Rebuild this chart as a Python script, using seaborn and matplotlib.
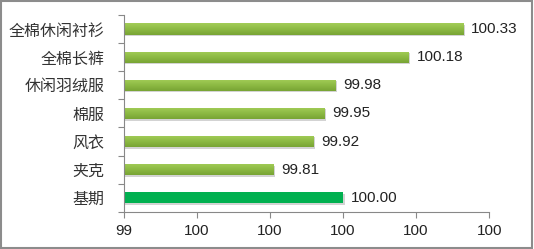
import numpy as np
import pandas as pd
import matplotlib
matplotlib.use("Agg")
import matplotlib.pyplot as plt
import matplotlib.transforms as mtransforms
from matplotlib.patches import Rectangle
from matplotlib.colors import LinearSegmentedColormap
import seaborn as sns

categories = ["全棉休闲衬衫", "全棉长裤", "休闲羽绒服", "棉服", "风衣", "夹克", "基期"]
values = [100.33, 100.18, 99.98, 99.95, 99.92, 99.81, 100.00]
value_labels = ["100.33", "100.18", "99.98", "99.95", "99.92", "99.81", "100.00"]
x_ticks = [99.4, 99.6, 99.8, 100.0, 100.2, 100.4]
x_tick_labels = ["99", "100", "100", "100", "100", "100"]
x_min, x_max = 99.4, 100.4

sns.set_theme(style="white")
plt.rcParams["font.family"] = ["Noto Sans CJK SC", "DejaVu Sans"]

df = pd.DataFrame({"cat": categories, "val": values,
                   "kind": ["item"] * 6 + ["base"]})

fig = plt.figure(figsize=(5.34, 2.49), dpi=100)
ax = fig.add_axes([0.232, 0.149, 0.684, 0.791])

sns.barplot(data=df, y="cat", x="val", hue="kind", orient="h",
            palette={"item": "#8DBA44", "base": "#00B050"}, saturation=1,
            width=0.4, dodge=False, legend=False, ax=ax)

ax.set_xlim(x_min, x_max)
ax.set_ylim(6.5, -0.5)

cmap = LinearSegmentedColormap.from_list("g", ["#A3CD58", "#8DBA44", "#78A434"])
grad = np.linspace(0, 1, 64).reshape(-1, 1)
shadow_tr = mtransforms.offset_copy(ax.transData, fig=fig, x=1.5, y=-1.5, units="dots")
bars = list(ax.patches)
for p in bars:
    w = p.get_width()
    p.set_x(x_min)
    p.set_width(w - x_min)
    p.set_linewidth(0)
    x0 = p.get_x(); y0 = p.get_y(); h = p.get_height(); w = p.get_width()
    ax.add_patch(Rectangle((x0, y0), w, h, transform=shadow_tr, facecolor="#b0b0b0",
                           edgecolor="none", alpha=0.55, zorder=p.get_zorder() - 0.1))
    fc = p.get_facecolor()
    if abs(fc[0] - 0x8D / 255) < 0.02:
        im = ax.imshow(grad, cmap=cmap, aspect="auto", origin="upper",
                       interpolation="bilinear",
                       extent=[x0, x0 + w, y0 + h, y0], zorder=p.get_zorder() + 0.1)
        im.set_clip_path(p)

ax.set_xlim(x_min, x_max)
ax.set_ylim(6.5, -0.5)
ax.set_xticks(x_ticks)
ax.set_xticklabels(x_tick_labels, fontsize=11, family=["Liberation Sans", "DejaVu Sans"], color="#222222")
ax.set_yticks(range(len(categories)))
ax.set_yticklabels(categories, fontsize=11.5, color="#333333")
ax.set_yticks(np.arange(-0.5, 7.0, 1.0), minor=True)
ax.tick_params(axis="y", which="major", length=0, pad=14)
ax.tick_params(axis="y", which="minor", length=4, color="#888888", width=0.8, direction="out", left=True)
ax.tick_params(axis="x", which="major", length=4, color="#888888", width=0.8, direction="out", bottom=True, pad=5)
ax.set_xlabel("")
ax.set_ylabel("")

for s in ["top", "right"]:
    ax.spines[s].set_visible(False)
for s in ["left", "bottom"]:
    ax.spines[s].set_color("#888888")
    ax.spines[s].set_linewidth(0.8)

for i, (v, lab) in enumerate(zip(values, value_labels)):
    ax.annotate(lab, xy=(v, i), xytext=(5.5, 0), textcoords="offset points",
                va="center", ha="left", fontsize=11,
                family=["Liberation Sans", "DejaVu Sans"], color="#222222")

fig.patches.append(Rectangle((0.002, 0.004), 0.994, 0.992, transform=fig.transFigure,
                             fill=False, edgecolor="#8c8c8c", linewidth=1.5))

fig.savefig("out.png", dpi=100)
